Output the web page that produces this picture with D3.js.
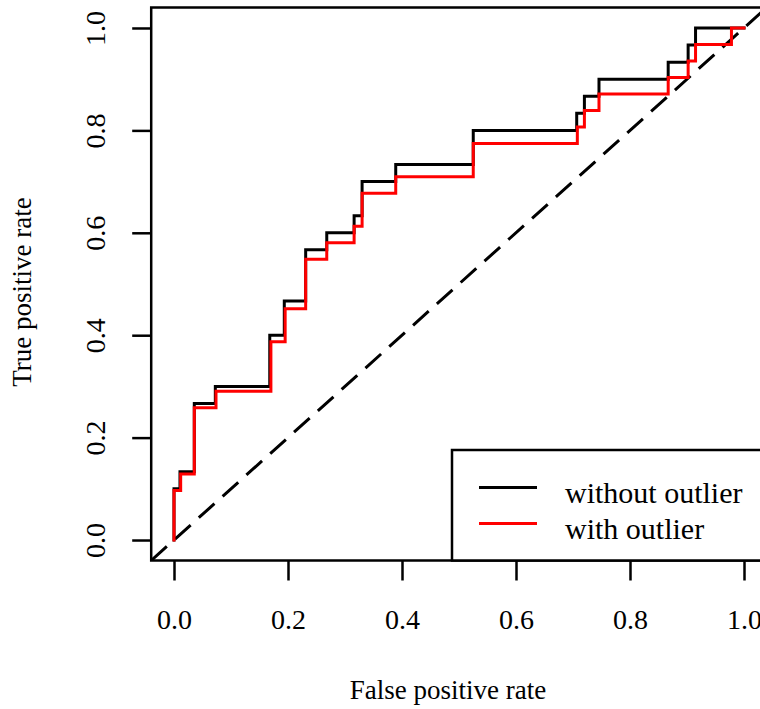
<!DOCTYPE html>
<html>
<head>
<meta charset="utf-8">
<script src="https://cdn.jsdelivr.net/npm/d3@7"></script>
<style>
  body { margin: 0; background: #fff; }
  svg text { font-family: "Liberation Serif", "Times New Roman", serif; fill: #000; }
</style>
</head>
<body>
<div id="roc"></div>
<script>
// ROC step points (corner where each step begins)
const fprWithout = [0, 0, 0.0105, 0.0356, 0.0725, 0.168, 0.1935, 0.231, 0.268, 0.316, 0.33, 0.389, 0.525, 0.7065, 0.72, 0.7456, 0.867, 0.902, 0.915, 1.0];
const tprWithout = [0, 0.1, 0.1333, 0.2667, 0.3, 0.4, 0.4667, 0.5667, 0.6, 0.6333, 0.7, 0.7333, 0.8, 0.8333, 0.8667, 0.9, 0.9333, 0.9667, 1.0, 1.0];

const fprWith = [0, 0, 0.0117, 0.0356, 0.0737, 0.17, 0.195, 0.231, 0.268, 0.316, 0.33, 0.389, 0.525, 0.7076, 0.72, 0.7456, 0.867, 0.902, 0.915, 0.978, 1.0];
const tprWith = [0, 0.0968, 0.129, 0.2581, 0.2903, 0.3871, 0.4516, 0.5484, 0.5806, 0.6129, 0.6774, 0.7097, 0.7742, 0.8065, 0.8387, 0.871, 0.9032, 0.9355, 0.9677, 1.0, 1.0];

const tickValues = [0, 0.2, 0.4, 0.6, 0.8, 1.0];
const seriesNames = ["without outlier", "with outlier"];
const seriesColors = ["#000000", "#ff0000"];

const width = 760, height = 709;
const plot = { left: 151.2, right: 766.8, top: 7.5, bottom: 560.5 };

const svg = d3.select("#roc")
    .append("svg")
    .attr("width", width)
    .attr("height", height);

// R style: 4% padding around the [0, 1] range
const xScale = d3.scaleLinear().domain([-0.04, 1.04]).range([plot.left, plot.right]);
const yScale = d3.scaleLinear().domain([-0.04, 1.04]).range([plot.bottom, plot.top]);

svg.append("clipPath")
    .attr("id", "plotClip")
    .append("rect")
    .attr("x", plot.left)
    .attr("y", plot.top)
    .attr("width", plot.right - plot.left)
    .attr("height", plot.bottom - plot.top);

const inner = svg.append("g").attr("clip-path", "url(#plotClip)");

// chance line
const diag = [{ x: -0.04, y: -0.04 }, { x: 1.04, y: 1.04 }];
inner.append("path")
    .datum(diag)
    .attr("d", d3.line().x(d => xScale(d.x)).y(d => yScale(d.y)))
    .attr("fill", "none")
    .attr("stroke", "#000")
    .attr("stroke-width", 3)
    .attr("stroke-dasharray", "21,11");

const stepLine = d3.line()
    .x(d => xScale(d[0]))
    .y(d => yScale(d[1]))
    .curve(d3.curveStepAfter);

const series = [
    d3.zip(fprWithout, tprWithout),
    d3.zip(fprWith, tprWith)
];

series.forEach((pts, i) => {
    inner.append("path")
        .datum(pts)
        .attr("d", stepLine)
        .attr("fill", "none")
        .attr("stroke", seriesColors[i])
        .attr("stroke-width", 3)
        .attr("stroke-linejoin", "miter")
        .attr("stroke-linecap", "square");
});

// axes
const xAxis = svg.append("g")
    .attr("transform", `translate(0,${plot.bottom})`)
    .call(d3.axisBottom(xScale).tickValues(tickValues).tickFormat(d3.format(".1f")).tickSize(20).tickSizeOuter(0));

xAxis.selectAll("text")
    .attr("y", 68)
    .attr("dy", null)
    .style("font-size", "28px");

const yAxis = svg.append("g")
    .attr("transform", `translate(${plot.left},0)`)
    .call(d3.axisLeft(yScale).tickValues(tickValues).tickFormat(d3.format(".1f")).tickSize(19).tickSizeOuter(0));

yAxis.selectAll("text")
    .attr("transform", "rotate(-90)")
    .attr("x", 0)
    .attr("y", -46)
    .attr("dy", null)
    .attr("text-anchor", "middle")
    .style("font-size", "28px");

svg.selectAll(".domain").remove();
svg.selectAll(".tick line")
    .attr("stroke", "#000")
    .attr("stroke-width", 2.5);

// plot box
svg.append("rect")
    .attr("x", plot.left)
    .attr("y", plot.top)
    .attr("width", plot.right - plot.left)
    .attr("height", plot.bottom - plot.top)
    .attr("fill", "none")
    .attr("stroke", "#000")
    .attr("stroke-width", 2.5);

// axis titles
svg.append("text")
    .attr("x", 448)
    .attr("y", 699)
    .attr("text-anchor", "middle")
    .style("font-size", "27px")
    .text("False positive rate");

svg.append("text")
    .attr("transform", "rotate(-90)")
    .attr("x", -292)
    .attr("y", 31)
    .attr("text-anchor", "middle")
    .style("font-size", "27px")
    .text("True positive rate");

// legend (bottom right)
const legend = svg.append("g");
legend.append("rect")
    .attr("x", 452)
    .attr("y", 450)
    .attr("width", plot.right - 452)
    .attr("height", plot.bottom - 450)
    .attr("fill", "#fff")
    .attr("stroke", "#000")
    .attr("stroke-width", 2.5);

seriesNames.forEach((name, i) => {
    const cy = 487.5 + i * 36;
    legend.append("line")
        .attr("x1", 479)
        .attr("x2", 537)
        .attr("y1", cy)
        .attr("y2", cy)
        .attr("stroke", seriesColors[i])
        .attr("stroke-width", 3);
    legend.append("text")
        .attr("x", 565)
        .attr("y", cy + 15)
        .style("font-size", "30px")
        .text(name);
});
</script>
</body>
</html>
